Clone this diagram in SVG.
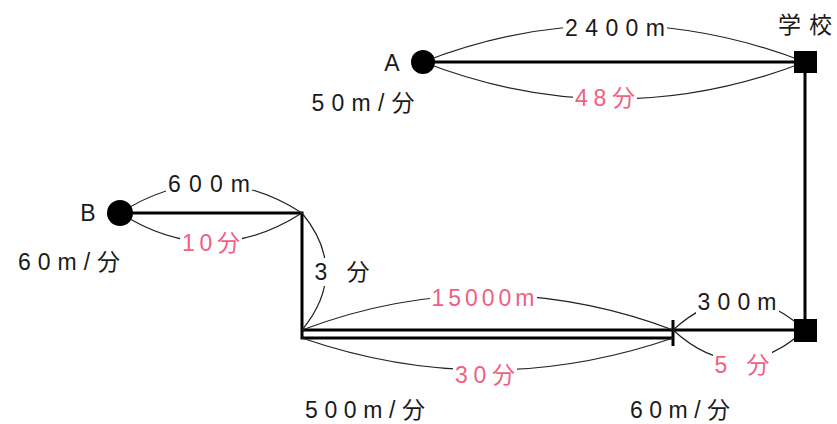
<svg xmlns="http://www.w3.org/2000/svg" width="837" height="424" viewBox="0 0 837 424">
<style>
.t{font-family:"Liberation Sans","Noto Sans CJK JP",sans-serif;font-size:23px;fill:#1a1a1a;text-anchor:middle}
.p{fill:#f0607f}
.arc{fill:none;stroke:#222;stroke-width:1.2}
.road{fill:none;stroke:#000;stroke-width:3}
.bg{fill:#fff}
</style>
<rect width="837" height="424" fill="#fff"/>
<g id="connectors">
<path class="road" d="M423,62 H805 V330"/>
<path class="road" d="M120,213 H302 V338 H673"/>
<path class="road" d="M302,330 H805"/>
<path class="road" d="M673,320 V346"/>
<path class="arc" d="M423,62 Q614,-12 805,62"/>
<path class="arc" d="M423,62 Q614,136 805,62"/>
<path class="arc" d="M120,213 Q211,155 302,213"/>
<path class="arc" d="M120,213 Q211,271 302,213"/>
<path class="arc" d="M302,213 Q350,271.5 302,330"/>
<path class="arc" d="M302,330 Q487,260 673,330"/>
<path class="arc" d="M302,338 Q487,402 673,338"/>
<path class="arc" d="M673,330 Q739,270 805,330"/>
<path class="arc" d="M673,330 Q739,390 805,330"/>
</g>
<g id="labels">
<rect class="bg" x="563" y="15" width="104" height="26"/>
<text class="t" x="615" y="36" textLength="100">2400m</text>
<rect class="bg" x="573" y="85" width="64" height="26"/>
<text class="t p" x="605" y="106" textLength="60">48分</text>
<rect class="bg" x="166" y="171" width="86" height="26"/>
<text class="t" x="209" y="192" textLength="82">600m</text>
<rect class="bg" x="180" y="230" width="62" height="26"/>
<text class="t p" x="211" y="251" textLength="58">10分</text>
<rect class="bg" x="313" y="258" width="59" height="28"/>
<text class="t" x="342" y="280" textLength="55">3 分</text>
<rect class="bg" x="430" y="285" width="107" height="26"/>
<text class="t p" x="483" y="306" textLength="103">15000m</text>
<rect class="bg" x="453" y="361" width="64" height="26"/>
<text class="t p" x="485" y="383" textLength="60">30分</text>
<rect class="bg" x="696" y="289" width="83" height="26"/>
<text class="t" x="737" y="310" textLength="79">300m</text>
<rect class="bg" x="713" y="351" width="59" height="26"/>
<text class="t p" x="742" y="373" textLength="55">5 分</text>
<text class="t" x="363" y="111" textLength="103">50m/分</text>
<text class="t" x="69" y="270" textLength="102">60m/分</text>
<text class="t" x="365" y="418" textLength="120">500m/分</text>
<text class="t" x="680" y="418" textLength="100">60m/分</text>
</g>
<g id="nodeA">
<circle cx="423" cy="62" r="12" fill="#000"/>
<text class="t" x="392" y="71">A</text>
</g>
<g id="nodeB">
<circle cx="120" cy="213" r="13" fill="#000"/>
<text class="t" x="88" y="221">B</text>
</g>
<g id="school">
<rect x="794" y="51" width="23" height="22" fill="#000"/>
<text class="t" x="805" y="33" textLength="54">学校</text>
</g>
<g id="station">
<rect x="794" y="319" width="23" height="23" fill="#000"/>
</g>
</svg>
